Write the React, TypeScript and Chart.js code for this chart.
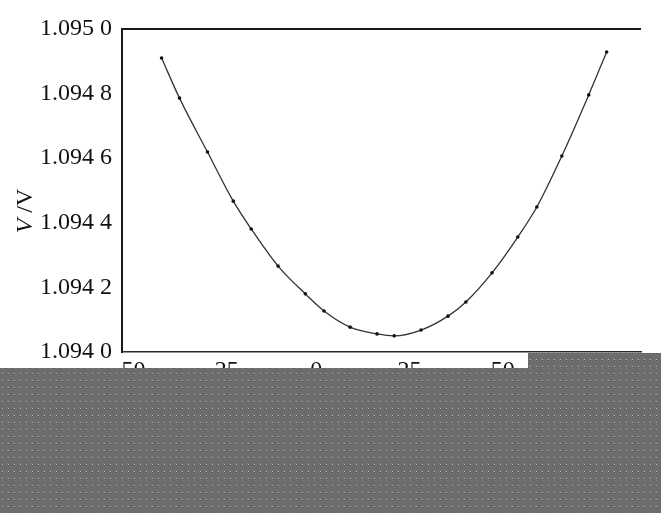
import React, { useEffect, useRef } from "react";
import { Chart, registerables } from "chart.js";
Chart.register(...registerables);

// Temperature (°C) and bandgap voltage (V)
const temperatures = [-41.4, -36.6, -29.1, -22.2, -17.4, -10.2, -2.9, 2.1, 9.1, 16.3, 20.9, 28.1, 35.3, 40.1, 47.1, 54.0, 59.1, 65.8, 73.0, 77.8];
const voltages = [1.09491, 1.094786, 1.094619, 1.094467, 1.094381, 1.094266, 1.09418, 1.094127, 1.094077, 1.094056, 1.09405, 1.094068, 1.094111, 1.094155, 1.094245, 1.094356, 1.094449, 1.094607, 1.094796, 1.094929];
const xRange = [-52, 87];
const yRange = [1.094, 1.095];
const xStep = 25;
const yStep = 0.0002;
const yTitleItalic = "V";
const yTitleRest = " /V";

const FONT = '"Liberation Serif", "Times New Roman", serif';

function makePattern(ctx: CanvasRenderingContext2D) {
  const c = document.createElement("canvas");
  c.width = 6;
  c.height = 7;
  const p = c.getContext("2d")!;
  p.fillStyle = "#6c6c6c";
  p.fillRect(0, 0, 6, 7);
  p.fillStyle = "#7c7c7c";
  p.fillRect(1, 1, 1, 1);
  p.fillRect(3, 4, 1, 1);
  p.fillStyle = "#bdbdbd";
  p.fillRect(2, 2, 1, 1);
  p.fillStyle = "#505050";
  p.fillRect(2, 3, 1, 1);
  return ctx.createPattern(c, "repeat");
}

const framePlugin = {
  id: "frame",
  afterDraw(chart: any) {
    const { ctx, chartArea: a } = chart;
    ctx.save();
    ctx.strokeStyle = "#1a1a1a";
    ctx.lineWidth = 2;
    ctx.beginPath();
    ctx.moveTo(a.left - 1, a.top);
    ctx.lineTo(a.right, a.top);
    ctx.stroke();
    ctx.restore();

    // y-axis title with italic V
    ctx.save();
    ctx.translate(32, 211);
    ctx.rotate(-Math.PI / 2);
    ctx.fillStyle = "#111";
    ctx.textBaseline = "alphabetic";
    ctx.font = `italic 24px ${FONT}`;
    const w1 = ctx.measureText(yTitleItalic).width;
    ctx.font = `24px ${FONT}`;
    const w2 = ctx.measureText(yTitleRest).width;
    const start = -(w1 + w2) / 2;
    ctx.font = `italic 24px ${FONT}`;
    ctx.fillText(yTitleItalic, start, 0);
    ctx.font = `24px ${FONT}`;
    ctx.fillText(yTitleRest, start + w1, 0);
    ctx.restore();

    // redacted band
    ctx.save();
    const pat = makePattern(ctx);
    ctx.fillStyle = pat || "#6c6c6c";
    ctx.beginPath();
    ctx.moveTo(0, 368);
    ctx.lineTo(528, 368);
    ctx.lineTo(528, 353);
    ctx.lineTo(661, 353);
    ctx.lineTo(661, 513);
    ctx.lineTo(0, 513);
    ctx.closePath();
    ctx.fill();
    ctx.restore();
  },
};

export default function App() {
  const ref = useRef<HTMLCanvasElement>(null);
  useEffect(() => {
    document.body.style.margin = "0";
    const points = temperatures.map((t, i) => ({ x: t, y: voltages[i] }));
    const chart = new Chart(ref.current!, {
      type: "scatter",
      data: {
        datasets: [
          {
            data: points,
            showLine: true,
            borderColor: "#333",
            borderWidth: 1.3,
            backgroundColor: "#111",
            pointRadius: 1.8,
            pointBorderWidth: 0,
            tension: 0.4,
            cubicInterpolationMode: "monotone",
          } as any,
        ],
      },
      options: {
        responsive: false,
        animation: false,
        layout: { padding: { top: 29, right: 20, left: 0, bottom: 0 } },
        plugins: { legend: { display: false }, tooltip: { enabled: false } },
        scales: {
          x: {
            type: "linear",
            min: xRange[0],
            max: xRange[1],
            grid: { display: false, drawTicks: false },
            border: { display: true, color: "#2a2a2a", width: 1.5 },
            ticks: {
              stepSize: xStep,
              includeBounds: false,
              color: "#111",
              padding: 4,
              font: { family: FONT, size: 24 },
              maxRotation: 0,
            },
            afterFit: (s: any) => {
              s.height = 161;
            },
          },
          y: {
            type: "linear",
            min: yRange[0],
            max: yRange[1],
            grid: { display: false, drawTicks: false },
            border: { display: true, color: "#1a1a1a", width: 2 },
            ticks: {
              stepSize: yStep,
              color: "#111",
              padding: 10,
              font: { family: FONT, size: 24 },
              callback: (v: any) => {
                const s = Number(v).toFixed(4);
                return s.slice(0, 5) + " " + s.slice(5);
              },
            },
            afterFit: (s: any) => {
              s.width = 122;
            },
          },
        },
      },
      plugins: [framePlugin],
    });
    return () => chart.destroy();
  }, []);
  return (
    <div style={{ position: "absolute", left: 0, top: 0, width: 661, height: 513, background: "#fff" }}>
      <canvas ref={ref} width={661} height={513} style={{ display: "block" }} />
    </div>
  );
}
